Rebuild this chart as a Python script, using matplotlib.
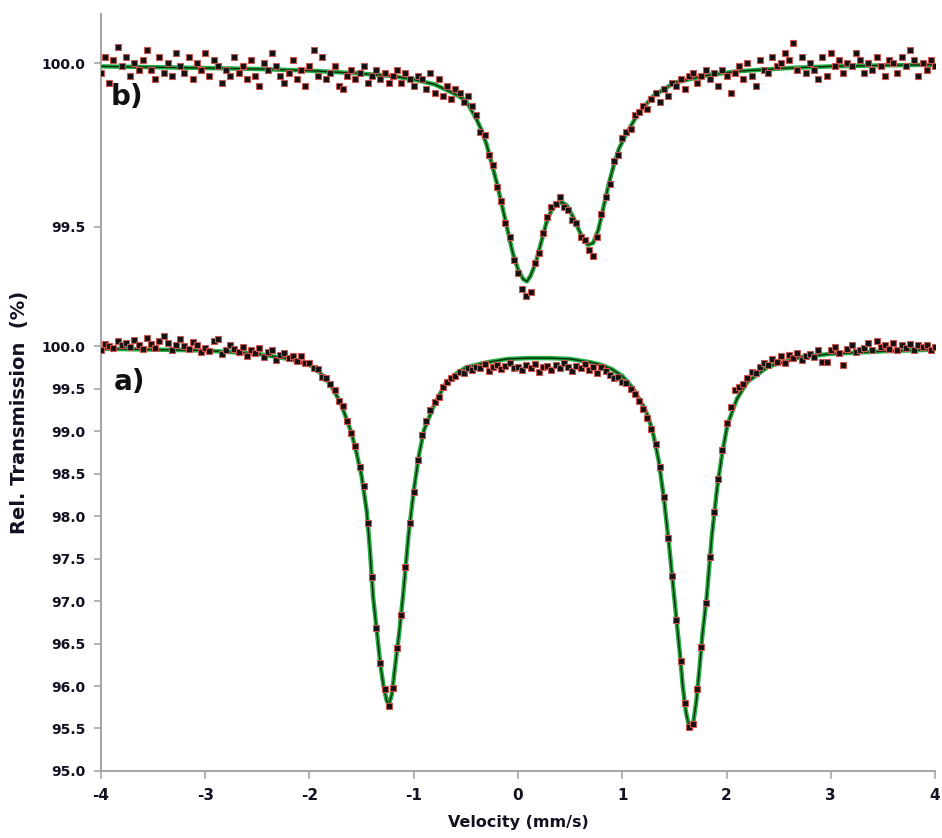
import matplotlib.pyplot as plt
import numpy as np

# velocity channels (mm/s), both spectra
vel = np.linspace(-4, 4, 201)

# measured points, panel a)
data_a = [
    99.95, 100.03, 100.00, 99.98, 100.06, 100.02, 100.04, 99.99, 100.07, 100.01,
    99.97, 100.10, 100.03, 99.98, 100.06, 100.12, 100.04, 99.96, 100.02, 100.08,
    100.00, 99.97, 100.05, 100.02, 99.93, 99.98, 99.94, 100.06, 100.08, 99.91,
    99.96, 100.01, 99.97, 99.93, 99.99, 99.88, 99.95, 99.92, 99.98, 99.87,
    99.93, 99.96, 99.84, 99.90, 99.92, 99.86, 99.89, 99.83, 99.88, 99.80,
    99.80, 99.74, 99.73, 99.64, 99.63, 99.55, 99.49, 99.36, 99.30, 99.12,
    98.98, 98.82, 98.58, 98.35, 97.92, 97.28, 96.68, 96.27, 95.96, 95.76,
    95.98, 96.45, 96.84, 97.40, 97.92, 98.28, 98.66, 98.95, 99.12, 99.25,
    99.34, 99.40, 99.52, 99.58, 99.63, 99.65, 99.70, 99.68, 99.74, 99.72,
    99.76, 99.74, 99.79, 99.71, 99.76, 99.78, 99.73, 99.77, 99.80, 99.74,
    99.76, 99.72, 99.78, 99.74, 99.79, 99.70, 99.75, 99.77, 99.72, 99.78,
    99.74, 99.80, 99.76, 99.71, 99.77, 99.74, 99.79, 99.72, 99.76, 99.68,
    99.75, 99.71, 99.66, 99.62, 99.64, 99.58, 99.57, 99.50, 99.44, 99.36,
    99.26, 99.15, 99.02, 98.85, 98.58, 98.22, 97.74, 97.30, 96.78, 96.30,
    95.80, 95.52, 95.55, 95.96, 96.46, 96.98, 97.52, 98.05, 98.44, 98.78,
    99.10, 99.28, 99.48, 99.52, 99.56, 99.62, 99.70, 99.69, 99.76, 99.80,
    99.78, 99.85, 99.82, 99.88, 99.80, 99.90, 99.86, 99.92, 99.84, 99.89,
    99.91, 99.87, 99.95, 99.82, 99.81, 99.96, 99.99, 99.92, 99.78, 99.97,
    100.02, 99.93, 99.96, 99.98, 100.04, 99.95, 100.06, 99.99, 100.01, 99.97,
    100.04, 99.95, 100.02, 99.98, 100.03, 99.96, 100.01, 99.99, 100.02, 99.96,
    99.99,
]

# measured points, panel b)
data_b = [
    99.97, 100.02, 99.94, 100.01, 100.05, 99.99, 100.02, 99.96, 100.00, 99.98,
    100.01, 100.04, 99.98, 99.95, 100.02, 99.97, 100.00, 99.96, 100.03, 99.99,
    99.97, 100.02, 99.95, 100.00, 99.98, 100.03, 99.96, 100.01, 99.99, 99.94,
    99.98, 99.96, 100.02, 99.97, 99.99, 99.95, 100.01, 99.96, 99.93, 100.00,
    99.98, 100.03, 99.99, 99.96, 99.94, 99.97, 100.01, 99.95, 99.98, 99.93,
    99.99, 100.04, 99.96, 100.02, 99.95, 99.97, 99.99, 99.93, 99.92, 99.96,
    99.98, 99.95, 99.97, 99.99, 99.94, 99.96, 99.98, 99.95, 99.97, 99.94,
    99.96, 99.98, 99.94, 99.97, 99.95, 99.93, 99.96, 99.95, 99.92, 99.97,
    99.91, 99.95, 99.90, 99.93, 99.89, 99.92, 99.91, 99.88, 99.90, 99.87,
    99.84, 99.79, 99.78, 99.72, 99.69, 99.62, 99.58, 99.51, 99.47, 99.40,
    99.36, 99.31, 99.29, 99.30, 99.39, 99.42, 99.48, 99.53, 99.56, 99.57,
    99.59, 99.56, 99.55, 99.52, 99.51, 99.47, 99.46, 99.43, 99.41, 99.47,
    99.54, 99.59, 99.63, 99.70, 99.72, 99.77, 99.79, 99.80, 99.84, 99.85,
    99.87, 99.86, 99.89, 99.91, 99.88, 99.92, 99.90, 99.94, 99.93, 99.95,
    99.92, 99.96, 99.97, 99.94, 99.96, 99.98, 99.95, 99.97, 99.93, 99.98,
    99.96, 99.91, 99.97, 99.99, 99.95, 100.00, 99.96, 99.93, 100.01, 99.98,
    99.97, 100.02, 99.99, 100.00, 100.03, 100.01, 100.06, 99.98, 100.02, 99.97,
    100.00, 99.98, 99.95, 100.02, 99.96, 100.03, 99.99, 100.01, 99.97, 100.00,
    99.99, 100.03, 100.01, 99.97, 100.00, 99.98, 100.02, 99.99, 99.96, 100.01,
    100.00, 99.97, 100.02, 99.99, 100.04, 100.01, 99.96, 100.00, 99.98, 100.01,
    99.99,
]

# fitted curves
fit_a_x = [-4.0, -3.5, -3.0, -2.5, -2.2, -2.0, -1.9, -1.8, -1.7, -1.6, -1.55, -1.5,
           -1.45, -1.42, -1.39, -1.35, -1.32, -1.29, -1.26, -1.24, -1.21, -1.18,
           -1.14, -1.10, -1.05, -1.0, -0.95, -0.9, -0.8, -0.7, -0.6, -0.5, -0.3,
           -0.1, 0.1, 0.3, 0.5, 0.7, 0.8, 0.9, 1.0, 1.1, 1.2, 1.25, 1.3, 1.35, 1.4,
           1.45, 1.49, 1.52, 1.55, 1.58, 1.61, 1.64, 1.66, 1.68, 1.71, 1.74, 1.77,
           1.81, 1.86, 1.91, 1.96, 2.01, 2.1, 2.2, 2.4, 2.7, 3.0, 3.5, 4.0]
fit_a_y = [99.97, 99.96, 99.95, 99.91, 99.85, 99.78, 99.69, 99.55, 99.33, 98.99, 98.75,
           98.47, 98.05, 97.60, 97.05, 96.60, 96.25, 96.00, 95.83, 95.78, 95.90, 96.22,
           96.62, 97.10, 97.78, 98.30, 98.72, 99.02, 99.32, 99.55, 99.67, 99.75, 99.81,
           99.85, 99.86, 99.86, 99.85, 99.81, 99.78, 99.73, 99.65, 99.51, 99.30, 99.17,
           98.95, 98.65, 98.20, 97.65, 97.15, 96.78, 96.42, 96.00, 95.70, 95.53, 95.50,
           95.56, 95.82, 96.20, 96.62, 97.05, 97.78, 98.33, 98.75, 99.08, 99.38, 99.58,
           99.76, 99.87, 99.91, 99.94, 99.96]

fit_b_x = [-4.0, -3.0, -2.5, -2.0, -1.5, -1.2, -1.0, -0.8, -0.7, -0.6, -0.5, -0.4,
           -0.35, -0.3, -0.25, -0.2, -0.15, -0.1, -0.05, 0.0, 0.05, 0.085, 0.12,
           0.17, 0.22, 0.27, 0.32, 0.37, 0.42, 0.47, 0.52, 0.57, 0.62, 0.67, 0.72,
           0.77, 0.82, 0.87, 0.92, 0.97, 1.05, 1.15, 1.3, 1.5, 1.8, 2.1, 2.6, 3.0,
           3.5, 4.0]
fit_b_y = [99.99, 99.985, 99.982, 99.977, 99.968, 99.96, 99.95, 99.935, 99.92, 99.905,
           99.885, 99.83, 99.795, 99.75, 99.69, 99.63, 99.56, 99.49, 99.42, 99.37,
           99.34, 99.333, 99.35, 99.39, 99.45, 99.51, 99.55, 99.57, 99.575, 99.565,
           99.535, 99.50, 99.465, 99.445, 99.45, 99.49, 99.56, 99.63, 99.69, 99.74,
           99.79, 99.845, 99.90, 99.94, 99.962, 99.975, 99.985, 99.99, 99.993, 99.995]

ticks_a = [95.0, 95.5, 96.0, 96.5, 97.0, 97.5, 98.0, 98.5, 99.0, 99.5, 100.0]
ticks_b = [99.5, 100.0]
ticks_x = [-4, -3, -2, -1, 0, 1, 2, 3, 4]

axis_grey = '#a6a6a6'
txt = '#111122'

fig = plt.figure(figsize=(9.42, 8.38), dpi=100)
ax_b = fig.add_axes([0.1072, 0.6122, 0.8854, 0.3711])
ax_a = fig.add_axes([0.1072, 0.0800, 0.8854, 0.5322])

for ax, data, fx, fy in [(ax_a, data_a, fit_a_x, fit_a_y), (ax_b, data_b, fit_b_x, fit_b_y)]:
    ax.plot(fx, fy, color='#22ad3f', lw=3.2, zorder=2)
    ax.plot(fx, fy, color='#0b2a10', lw=1.0, zorder=3)
    ax.plot(vel, data, 's', ms=4.0, mfc='#111111', mec='#c8554f', mew=0.8, zorder=4)
    ax.set_xlim(-4, 4)
    for s in ['top', 'right']:
        ax.spines[s].set_visible(False)
    ax.spines['left'].set_color(axis_grey)
    ax.spines['left'].set_linewidth(1.5)
    ax.tick_params(axis='y', direction='out', length=5, width=1.2, color=axis_grey,
                   labelsize=10, labelcolor=txt, pad=6)

ax_b.set_ylim(99.2, 100.15)
ax_b.set_yticks(ticks_b)
ax_b.set_yticklabels(['%.1f' % t for t in ticks_b], fontweight='bold')
ax_b.spines['bottom'].set_visible(False)
ax_b.tick_params(axis='x', bottom=False, labelbottom=False)

ax_a.set_ylim(95.0, 100.25)
ax_a.set_yticks(ticks_a)
ax_a.set_yticklabels(['%.1f' % t for t in ticks_a], fontweight='bold')
ax_a.set_xticks(ticks_x)
ax_a.set_xticklabels([str(t) for t in ticks_x], fontweight='bold')
ax_a.spines['bottom'].set_color(axis_grey)
ax_a.spines['bottom'].set_linewidth(1.5)
ax_a.tick_params(axis='x', direction='out', length=6, width=1.2, color=axis_grey,
                 labelsize=11, labelcolor=txt, pad=6)

ax_a.text(-3.88, 99.58, 'a)', fontsize=20, fontweight='bold', va='center', color='#111111')
ax_b.text(-3.91, 99.895, 'b)', fontsize=20, fontweight='bold', va='center', color='#111111')

fig.text(0.021, 0.508, 'Rel. Transmission  (%)', rotation=90, ha='center', va='center',
         fontsize=14, fontweight='bold', color=txt)
fig.text(0.55, 0.018, 'Velocity (mm/s)', ha='center', va='center',
         fontsize=11.5, fontweight='bold', color=txt)

fig.savefig('out.png', dpi=100)
